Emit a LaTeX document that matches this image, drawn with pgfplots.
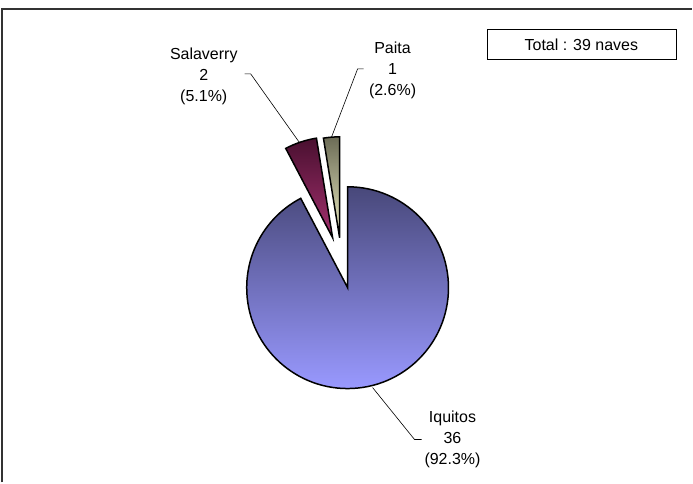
\documentclass[border=0pt]{standalone}
\usepackage{pgfplots}
\pgfplotsset{compat=1.18}
\usepackage{pgfplotstable}
\usepackage{fontspec}
\setmainfont{Liberation Sans}
\definecolor{iqtop}{HTML}{48487A}
\definecolor{iqbot}{HTML}{9999FF}
\definecolor{satop}{HTML}{4A1030}
\definecolor{sabot}{HTML}{A3306E}
\definecolor{patop}{HTML}{6C6C56}
\definecolor{pabot}{HTML}{EEEEC4}
\definecolor{framecol}{HTML}{333333}
\pgfplotstableread{
port value
Iquitos 36
Salaverry 2
Paita 1
}\datatable
\begin{document}
\begin{tikzpicture}
\pgfplotstablegetelem{0}{value}\of\datatable \let\vA\pgfplotsretval
\pgfplotstablegetelem{1}{value}\of\datatable \let\vB\pgfplotsretval
\pgfplotstablegetelem{2}{value}\of\datatable \let\vC\pgfplotsretval
\pgfmathsetmacro{\tot}{\vA+\vB+\vC}
\pgfmathsetmacro{\eA}{90-360*\vA/\tot}
\pgfmathsetmacro{\eB}{\eA-360*\vB/\tot}
\pgfmathsetmacro{\eC}{\eB-360*\vC/\tot}
\begin{axis}[x=1bp, y=1bp, xmin=0, xmax=693, ymin=0, ymax=483,
  y dir=reverse, hide axis, clip=false]
\path (axis cs:0,0) rectangle (axis cs:693,483);
% frame
\draw[framecol, line width=1.6bp] (axis cs:2,483) -- (axis cs:2,9) -- (axis cs:693,9);
% slices
\draw[line width=1.5bp, top color=iqtop, bottom color=iqbot]
  (axis cs:348,288) -- ++(90:101bp) arc[start angle=90, end angle=\eA, radius=101bp] -- cycle;
\draw[line width=1.5bp, top color=satop, bottom color=sabot]
  (axis cs:333,238) -- ++(\eA:101bp) arc[start angle=\eA, end angle=\eB, radius=101bp] -- cycle;
\draw[line width=1.5bp, top color=patop, bottom color=pabot]
  (axis cs:340,238) -- ++(\eB:101bp) arc[start angle=\eB, end angle=\eC, radius=101bp] -- cycle;
% leader lines
\draw[line width=0.6bp] (axis cs:245,74) -- (axis cs:251,74) -- (axis cs:300,143);
\draw[line width=0.6bp] (axis cs:364,69) -- (axis cs:358,69) -- (axis cs:332,137);
\draw[line width=0.6bp] (axis cs:373,388) -- (axis cs:415,440) -- (axis cs:422,440);
% labels
\node[align=center, inner sep=0pt, font=\fontsize{16bp}{21bp}\selectfont] at (axis cs:204,76) {Salaverry\\2\\(5.1\%)};
\node[align=center, inner sep=0pt, font=\fontsize{16bp}{21bp}\selectfont] at (axis cs:393,70) {Paita\\1\\(2.6\%)};
\node[align=center, inner sep=0pt, font=\fontsize{16bp}{21bp}\selectfont] at (axis cs:453,440) {Iquitos\\36\\(92.3\%)};
% total box
\draw[line width=1bp] (axis cs:488,30) rectangle (axis cs:677,60);
\node[inner sep=0pt, font=\fontsize{16bp}{20bp}\selectfont] at (axis cs:582,45) {Total : 39 naves};
\end{axis}
\end{tikzpicture}
\end{document}
